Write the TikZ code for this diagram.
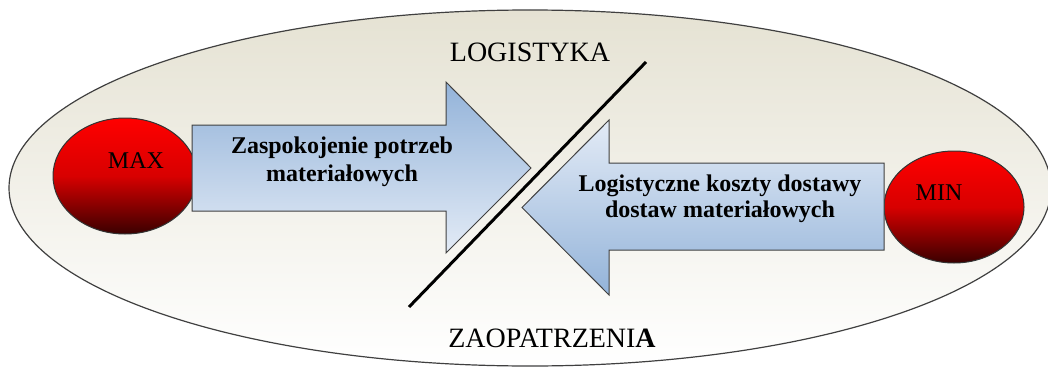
\documentclass[tikz,border=0pt]{standalone}
\usepackage{fontspec}
\setmainfont{Liberation Serif}
\usetikzlibrary{shapes.geometric}

\definecolor{bgtop}{HTML}{E5E2D3}
\definecolor{redtop}{HTML}{FF0000}
\definecolor{reddark}{HTML}{3A0000}
\definecolor{arrowblue}{HTML}{93B3D9}
\definecolor{arrowlight}{HTML}{E3EBF6}

\begin{document}
\begin{tikzpicture}[x=1pt,y=-1pt,
    blob/.style={ellipse, draw=black!80, line width=1pt, top color=redtop, bottom color=reddark, middle color=redtop!80!reddark, inner sep=0pt},
    arrowbox/.style={draw=black!75, line width=1pt},
    bigword/.style={font=\fontsize{28}{30}\selectfont},
    smallword/.style={font=\fontsize{24}{26}\selectfont},
    boldword/.style={font=\fontsize{24}{28}\selectfont\bfseries, align=center}]
    \useasboundingbox (0,0) rectangle (1048,369);

    \draw[black!75, line width=1.2pt, top color=bgtop, middle color=bgtop!45!white, bottom color=white] (530,188) ellipse [x radius=521, y radius=178];

    \node[blob, minimum width=144pt, minimum height=116pt] (max) at (125,176) {};
    \node[blob, minimum width=140pt, minimum height=112pt] (min) at (954,207) {};

    \draw[arrowbox, top color=arrowblue, bottom color=arrowlight] (192,125) -- (446,125) -- (446,82) -- (531,168) -- (446,253) -- (446,211) -- (192,211) -- cycle;
    \draw[arrowbox, top color=arrowlight, bottom color=arrowblue] (884,163) -- (609,163) -- (609,120) -- (522,207.5) -- (609,295) -- (609,250) -- (884,250) -- cycle;

    \draw[line width=3pt] (409,307) -- (646,62);

    \node[smallword, anchor=base] (maxtext) at (136,168) {MAX};
    \node[smallword, anchor=base] (mintext) at (939,200) {MIN};
    \node[boldword] (need) at (342,162) {Zaspokojenie potrzeb\\materiałowych};
    \node[boldword, font=\fontsize{24}{26}\selectfont\bfseries] (cost) at (720,199) {Logistyczne koszty dostawy\\dostaw materiałowych};
    \node[bigword, anchor=base] (logistyka) at (530,62) {LOGISTYKA};
    \node[bigword, anchor=base] (zaopatrzenia) at (552,347) {ZAOPATRZENI\textbf{A}};
\end{tikzpicture}
\end{document}
